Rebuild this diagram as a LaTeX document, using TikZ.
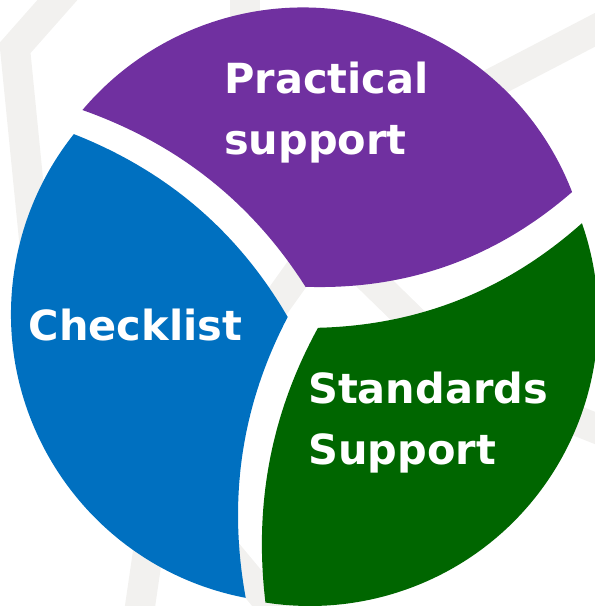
\documentclass[tikz,border=0pt]{standalone}
\usepackage{fontspec}
\setmainfont{DejaVu Sans}
\definecolor{xqtqaq}{rgb}{0.4392,0.1882,0.6275}
\definecolor{qqxqcq}{rgb}{0,0.4392,0.7529}
\definecolor{qqwwqq}{rgb}{0,0.4,0}
\definecolor{fsfref}{rgb}{0.949,0.9451,0.9373}
\begin{document}
\begin{tikzpicture}[line cap=round,line join=round,x=1pt,y=-1pt,
	band/.style={color=fsfref,line width=30pt,line cap=butt,line join=miter},
	segtext/.style={anchor=base west,inner sep=0pt,text=white,align=left,font=\fontsize{41.5}{61}\selectfont\bfseries}]
	\useasboundingbox (0,0) rectangle (595,606);
	\clip(0,0) rectangle (595,606);
	% faint bands behind the wheel
	\draw [band] (68,-12) -- (15,48) -- (40,300);
	\draw [band] (245,-10) -- (245,60);
	\draw [band] (610,22) -- (460,100);
	\draw [band] (250,340) -- (325,235) -- (440,347);
	\draw [band] (138,620) -- (160,470);
	\draw [band] (200,520) -- (300,640);
	\draw [band] (500,390) -- (610,434);
	% centres of the three pieces
	\coordinate (cP) at (303,296);
	\coordinate (cB) at (300,314);
	\coordinate (cG) at (310,318);
	\fill[color=xqtqaq] (305.5,286.8) .. controls (406.8,290.1) and (495.6,258.5) .. ([shift={(-21.13:288.5)}]cP)
		arc[start angle=-21.13,end angle=-139.86,radius=288.5] .. controls (177.9,143.8) and (251.9,202.5) .. (305.5,286.8) -- cycle;
	\fill[color=qqxqcq] (287.7,317) .. controls (241.5,405.3) and (227.6,498.5) .. ([shift={(100.83:289)}]cB)
		arc[start angle=100.83,end angle=218.5,radius=289] .. controls (167.0,170.8) and (238.0,231.5) .. (287.7,317) -- cycle;
	\fill[color=qqwwqq] (318,327.8) .. controls (418.6,325.3) and (506.4,290.5) .. ([shift={(-19.22:288)}]cG)
		arc[start angle=-19.22,end angle=98.9,radius=288] .. controls (253.7,504.3) and (271.1,413.2) .. (318,327.8) -- cycle;
	\node[segtext] (practical) at (224,154.6) {Practical\\support};
	\node[segtext] (checklist) at (28.5,340) {Checklist};
	\node[segtext] (standards) at (308,464) {Standards\\Support};
\end{tikzpicture}
\end{document}
